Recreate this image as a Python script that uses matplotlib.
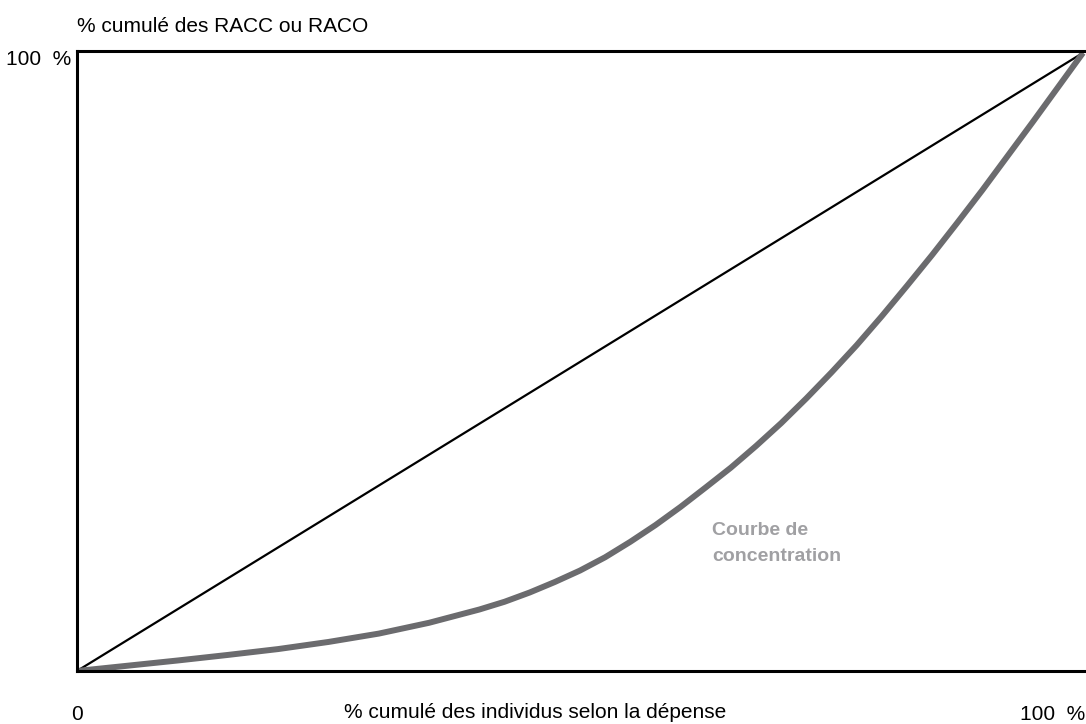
import matplotlib.pyplot as plt

plt.rcParams['font.family'] = ['Liberation Sans', 'DejaVu Sans']

# Part cumulée des individus (%) et des RACC/RACO (%)
pct_individus = [0, 5, 10, 15, 20, 25, 30, 35, 40, 42.5, 45, 47.5, 50, 52.5, 55, 57.5, 60, 62.5,
                 65, 67.5, 70, 72.5, 75, 77.5, 80, 82.5, 85, 87.5, 90, 92.5, 95, 97.5, 100]
pct_racc = [0, 0.85, 1.7, 2.6, 3.55, 4.7, 6.05, 7.8, 9.95, 11.2, 12.7, 14.4, 16.25, 18.4, 20.9, 23.6,
            26.55, 29.7, 32.9, 36.4, 40.1, 44.1, 48.3, 52.7, 57.4, 62.3, 67.3, 72.5, 77.8, 83.3, 88.8,
            94.4, 100]

# Diagonale d'égalité
egalite_x = [0, 100]
egalite_y = [0, 100]

W, H = 1086, 724


def px(x, y):
    # pixels de l'image -> coordonnées de la figure
    return x / W, 1 - y / H


fig = plt.figure(figsize=(W / 100, H / 100), dpi=100)
ax = fig.add_axes([77 / W, 1 - 671 / H, (W - 77) / W, 620 / H])

ax.plot(egalite_x, egalite_y, color='black', linewidth=1.6, solid_capstyle='butt')
ax.plot(pct_individus, pct_racc, color='#6b6b6e', linewidth=4.3, solid_capstyle='butt')

ax.set_xlim(0, 100.3)
ax.set_ylim(0, 100.3)
ax.set_xticks([])
ax.set_yticks([])
for side in ['left', 'top', 'bottom']:
    ax.spines[side].set_linewidth(2.2)
ax.spines['right'].set_visible(False)

# Textes autour du cadre
fs = 15
fig.text(*px(77, 32), '% cumulé des RACC ou RACO', fontsize=fs, ha='left', va='baseline')
fig.text(*px(71, 65), '100  %', fontsize=fs, ha='right', va='baseline')
fig.text(*px(77, 720), '0', fontsize=fs, ha='center', va='baseline')
fig.text(*px(535, 718), '% cumulé des individus selon la dépense', fontsize=fs, ha='center', va='baseline')
fig.text(*px(1085, 720), '100  %', fontsize=fs, ha='right', va='baseline')

fig.text(*px(712, 535), 'Courbe de', fontsize=14, fontweight='bold', color='#a0a0a3',
         ha='left', va='baseline')
fig.text(*px(712, 561), 'concentration', fontsize=14, fontweight='bold', color='#a0a0a3',
         ha='left', va='baseline')

fig.savefig('out.png', dpi=100)
